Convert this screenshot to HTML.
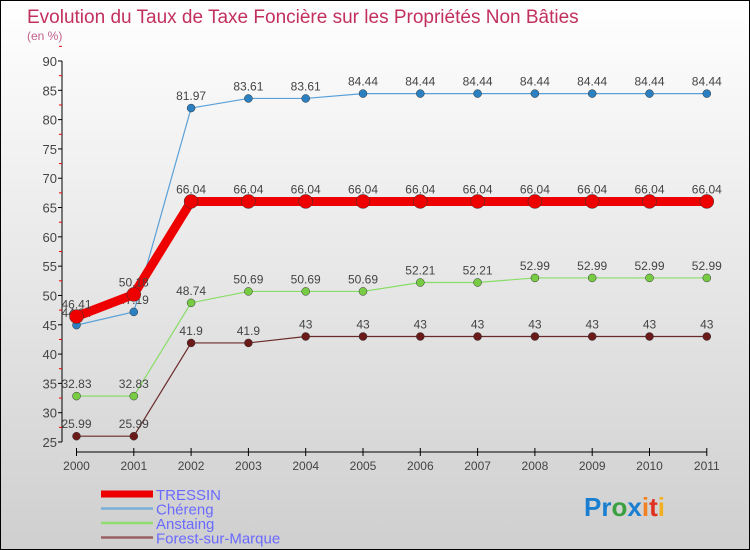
<!DOCTYPE html>
<html><head><meta charset="utf-8"><style>
body{margin:0;width:750px;height:550px;overflow:hidden;font-family:"Liberation Sans",sans-serif}
#wrap{position:relative;width:748px;height:548px;border:1px solid #000;background:linear-gradient(#ffffff,#cfcfcf)}
</style></head><body>
<div id="wrap">
<svg id="chart" width="748" height="548" style="position:absolute;left:0;top:0">
<text x="26" y="22" font-size="19" fill="#c2305e">Evolution du Taux de Taxe Foncière sur les Propriétés Non Bâties</text>
<text x="26" y="39" font-size="12" fill="#c2608a">(en %)</text>
<g id="axes"></g><g id="series"></g><g id="legend"></g>
<text x="583" y="515" font-size="26" font-weight="bold"><tspan fill="#1a7fd0">Pr</tspan><tspan fill="#3aa040">o</tspan><tspan fill="#1a7fd0">x</tspan><tspan fill="#f08020">i</tspan><tspan fill="#e03020">t</tspan><tspan fill="#f0b020">i</tspan></text>
</svg></div>
<script>
const years=["2000","2001","2002","2003","2004","2005","2006","2007","2008","2009","2010","2011"];
const yTicks=[25,30,35,40,45,50,55,60,65,70,75,80,85,90];
const tressin=[46.41,50.18,66.04,66.04,66.04,66.04,66.04,66.04,66.04,66.04,66.04,66.04];
const chereng=[44.94,47.19,81.97,83.61,83.61,84.44,84.44,84.44,84.44,84.44,84.44,84.44];
const anstaing=[32.83,32.83,48.74,50.69,50.69,50.69,52.21,52.21,52.99,52.99,52.99,52.99];
const forest=[25.99,25.99,41.9,41.9,43,43,43,43,43,43,43,43];
const seriesNames=["TRESSIN","Chéreng","Anstaing","Forest-sur-Marque"];
const NS="http://www.w3.org/2000/svg";
const X=i=>75.5+i*57.3;
const Y=v=>441-(v-25)*(381/65);
function mk(tag,attrs,parent){const e=document.createElementNS(NS,tag);for(const k in attrs)e.setAttribute(k,attrs[k]);parent.appendChild(e);return e;}
const axes=document.getElementById('axes');
let a=mk('line',{x1:61,y1:Y(90),x2:61,y2:Y(25),stroke:'#000'},axes);


yTicks.forEach(v=>{
 let t=mk('line',{x1:57,y1:Y(v),x2:61,y2:Y(v),stroke:'#000'},axes);
 
 
 let m=mk('line',{x1:58,y1:Y(v+2.5),x2:61,y2:Y(v+2.5),stroke:'#e00'},axes);
 
 
 let l=mk('text',{x:56,y:Y(v)+5,'text-anchor':'end','font-size':13,fill:'#444'},axes);l.textContent=v;
 
 
});
let xa=mk('line',{x1:X(0),y1:451,x2:X(11),y2:451,stroke:'#000'},axes);


years.forEach((y,i)=>{
 let t=mk('line',{x1:X(i),y1:447,x2:X(i),y2:455,stroke:'#000'},axes);
 
 
 let l=mk('text',{x:X(i),y:469,'text-anchor':'middle','font-size':12,fill:'#444'},axes);l.textContent=y;
 
 
});
const sg=document.getElementById('series');
function draw(vals,color,w,r,fill,name){
 const g=mk('g',{},sg);
 
 
 let p=mk('polyline',{points:vals.map((v,i)=>X(i)+','+Y(v)).join(' '),fill:'none',stroke:color,'stroke-width':w,'stroke-linejoin':'round'},g);
 
 
 vals.forEach((v,i)=>{
  let c=mk('circle',{cx:X(i),cy:Y(v),r:r,fill:fill,stroke:'#333','stroke-width':0.5},g);
  
  
  let t=mk('text',{x:X(i),y:Y(v)-8,'text-anchor':'middle','font-size':12,fill:'#444'},g);t.textContent=v;
  
  
 });
}
draw(forest,'#6b2a2a',1.2,4,'#6b1a1a','forest');
draw(anstaing,'#88dd66',1.2,4,'#77cc44','anstaing');
draw(chereng,'#5aa0d8',1.2,4,'#2a80c0','chereng');
draw(tressin,'#ee0000',9,7,'#ee0000','tressin');
const lg=document.getElementById('legend');
const lc=['#ee0000','#7ab0d8','#90dd70','#9a6060'],lw=[7,2.5,2.5,2.5];
seriesNames.forEach((n,i)=>{
 const y=493+i*14.5;
 let l=mk('line',{x1:100,y1:y,x2:152,y2:y,stroke:lc[i],'stroke-width':lw[i]},lg);
 
 
 let t=mk('text',{x:155,y:y+6,'font-size':15,fill:'#6a6aff'},lg);t.textContent=n;
 
 
});
</script>
</body></html>
